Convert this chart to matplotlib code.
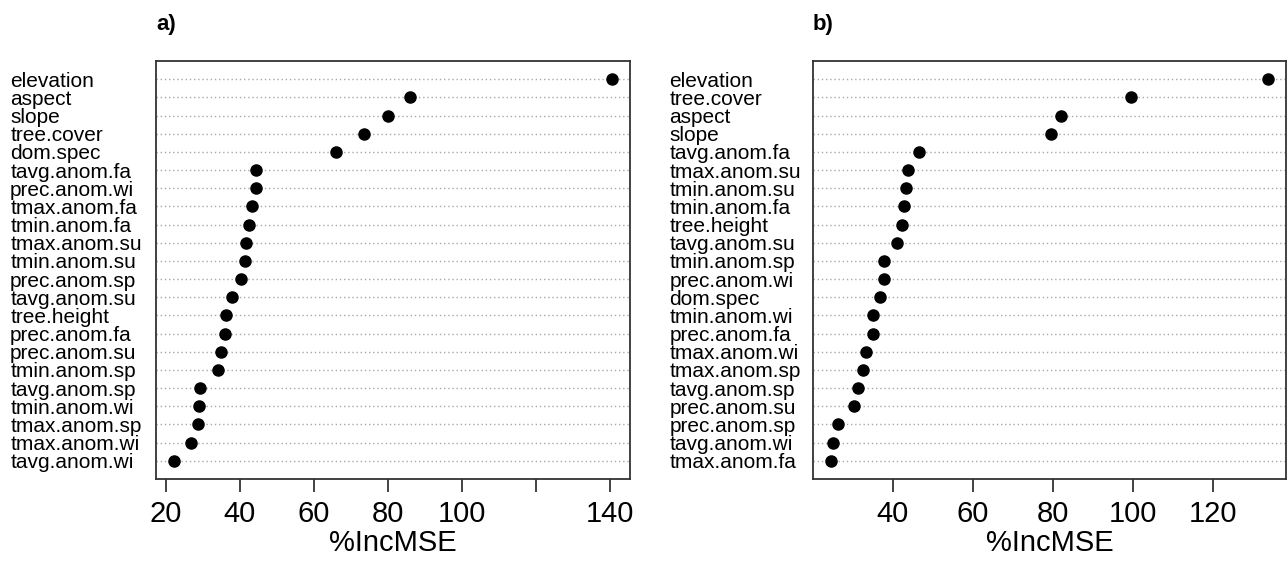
import matplotlib
matplotlib.use("Agg")
import matplotlib.pyplot as plt

plt.rcParams['font.family'] = ['Liberation Sans', 'DejaVu Sans']

# Panel a) variable importance (top to bottom)
vars_a = ["elevation", "aspect", "slope", "tree.cover", "dom.spec",
          "tavg.anom.fa", "prec.anom.wi", "tmax.anom.fa", "tmin.anom.fa",
          "tmax.anom.su", "tmin.anom.su", "prec.anom.sp", "tavg.anom.su",
          "tree.height", "prec.anom.fa", "prec.anom.su", "tmin.anom.sp",
          "tavg.anom.sp", "tmin.anom.wi", "tmax.anom.sp", "tmax.anom.wi",
          "tavg.anom.wi"]
inc_a = [140.6, 86.0, 79.9, 73.6, 66.0,
         44.3, 44.4, 43.4, 42.5,
         41.6, 41.5, 40.4, 37.8,
         36.3, 36.1, 34.8, 34.1,
         29.2, 28.9, 28.6, 26.9,
         22.1]
ticks_a = [20, 40, 60, 80, 100, 120, 140]
ticklabels_a = ["20", "40", "60", "80", "100", "", "140"]

# Panel b)
vars_b = ["elevation", "tree.cover", "aspect", "slope", "tavg.anom.fa",
          "tmax.anom.su", "tmin.anom.su", "tmin.anom.fa", "tree.height",
          "tavg.anom.su", "tmin.anom.sp", "prec.anom.wi", "dom.spec",
          "tmin.anom.wi", "prec.anom.fa", "tmax.anom.wi", "tmax.anom.sp",
          "tavg.anom.sp", "prec.anom.su", "prec.anom.sp", "tavg.anom.wi",
          "tmax.anom.fa"]
inc_b = [134.0, 99.5, 82.2, 79.6, 46.5,
         43.8, 43.2, 42.9, 42.3,
         41.0, 37.8, 37.7, 36.9,
         35.1, 35.0, 33.2, 32.6,
         31.2, 30.2, 26.3, 25.1,
         24.4]
ticks_b = [40, 60, 80, 100, 120]
ticklabels_b = ["40", "60", "80", "100", "120"]

fig = plt.figure(figsize=(12.87, 5.62), dpi=100)


def dotchart(ax, names, vals, ticks, ticklabels, tag, label_pad):
    n = len(names)
    ys = [n - i for i in range(n)]
    lo, hi = min(vals), max(vals)
    ext = 0.04 * (hi - lo)
    ax.set_xlim(lo - ext, hi + ext)
    ax.set_ylim(0, n + 1)
    for y in ys:
        ax.axhline(y, color='#a8a8a8', lw=1.0, ls=(0, (1, 2)), zorder=1)
    ax.plot(vals, ys, 'o', color='black', ms=8, zorder=3)

    ax.set_yticks(ys)
    ax.set_yticklabels(names, fontsize=15, ha='left')
    ax.tick_params(axis='y', length=0, pad=label_pad)

    ax.set_xticks(ticks)
    ax.set_xticklabels(ticklabels, fontsize=21)
    ax.tick_params(axis='x', length=9, width=1.2, pad=6, color='#222222')
    ax.set_xlabel("%IncMSE", fontsize=21, labelpad=1)

    for s in ax.spines.values():
        s.set_linewidth(1.3)
        s.set_color('#333333')

    ax.text(0, 1.0 + 36 / 418, tag, transform=ax.transAxes, fontsize=16,
            fontweight='bold', ha='left', va='center')


ax_a = fig.add_axes([156 / 1287, 1 - 479 / 562, 474 / 1287, 418 / 562])
dotchart(ax_a, vars_a, inc_a, ticks_a, ticklabels_a, "a)", 105)

ax_b = fig.add_axes([813 / 1287, 1 - 479 / 562, 473 / 1287, 418 / 562])
dotchart(ax_b, vars_b, inc_b, ticks_b, ticklabels_b, "b)", 103.5)

fig.savefig("out.png", dpi=100)
